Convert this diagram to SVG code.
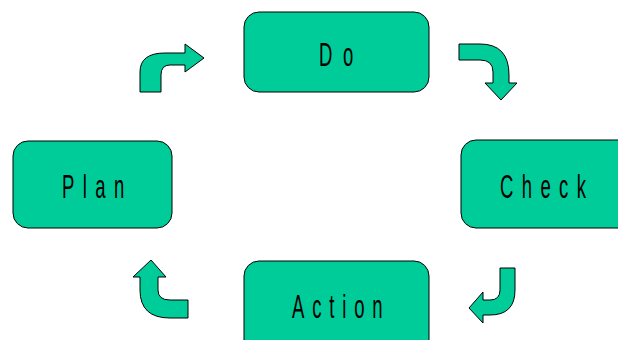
<svg xmlns="http://www.w3.org/2000/svg" width="618" height="340" viewBox="0 0 618 340">
<style>
.box{fill:#00CC99;stroke:#000;stroke-width:1}
.arr{fill:#00CC99;stroke:#000;stroke-width:1;stroke-linejoin:miter}
.lbl{font-family:"Liberation Sans",Arial,sans-serif;font-size:33px;fill:#000;letter-spacing:15px}
</style>
<rect width="618" height="340" fill="#fff"/>
<g id="do">
<rect class="box" x="244" y="12" width="185" height="80" rx="15"/>
<g transform="translate(319,66) scale(0.56,1)"><text class="lbl" x="0" y="0" style="letter-spacing:19px">Do</text></g>
</g>
<g id="check">
<rect class="box" x="461" y="140" width="180" height="88" rx="15"/>
<g transform="translate(500,198) scale(0.56,1)"><text class="lbl" x="0" y="0">Check</text></g>
</g>
<g id="action">
<rect class="box" x="244" y="261" width="185" height="100" rx="15"/>
<g transform="translate(292,318) scale(0.56,1)"><text class="lbl" x="0" y="0" style="letter-spacing:14px">Action</text></g>
</g>
<g id="plan">
<rect class="box" x="13" y="141" width="159" height="87" rx="15"/>
<g transform="translate(62,198) scale(0.56,1)"><text class="lbl" x="0" y="0">Plan</text></g>
</g>
<g id="connectors">
<path class="arr" d="M140,92 L140,72 Q140,53 165,53 L185,53 L185,44 L204,58 L185,72 L185,65 L170,65 Q161,65 161,75 L161,92 Z"/>
<path class="arr" d="M459,44 L480,44 Q509,44 509,75 L509,83 L517,83 L501,100 L485,83 L493,83 L493,72 Q493,60 480,60 L459,60 Z"/>
<path class="arr" d="M500,268 L515,268 L515,290 Q515,315 490,315 L483,315 L483,323 L469,308 L483,292 L483,300 L490,300 Q500,300 500,290 Z"/>
<path class="arr" d="M188,300 L188,318 L170,318 Q140,318 140,290 L140,277 L133,277 L151,260 L166,277 L158,277 L158,290 Q158,300 170,300 Z"/>
</g>
</svg>
